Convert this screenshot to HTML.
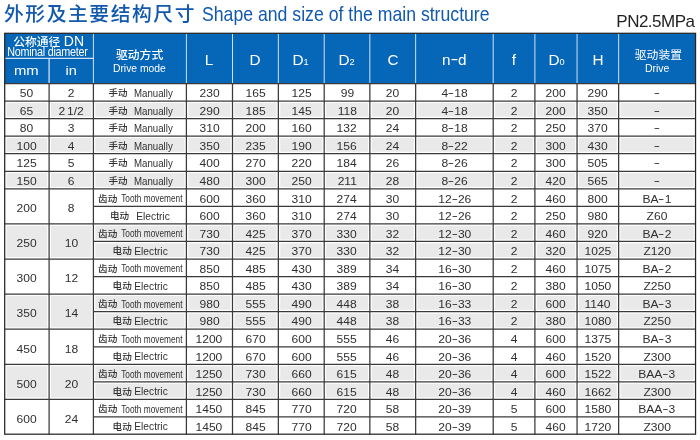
<!DOCTYPE html>
<html lang="zh"><head><meta charset="utf-8"><title>Shape and size of the main structure</title>
<style>
html,body{margin:0;padding:0;background:#fff;}
body{width:700px;height:440px;position:relative;overflow:hidden;font-family:"Liberation Sans","Noto Sans CJK SC",sans-serif;color:#303030;}
.a{position:absolute;}
.t{position:absolute;white-space:nowrap;text-align:center;height:20px;line-height:20px;}
#x{position:absolute;left:0;top:0;width:700px;height:440px;will-change:transform;}
.t span{display:inline-block;}
.w{color:#fff;}
.w b{font-weight:500;}
.w i{font-style:normal;font-size:14px;letter-spacing:.3px;}
.t u{text-decoration:none;display:inline-block;transform:scaleX(1.55);margin:0 1px;position:relative;top:-1.3px;}
.bl{color:#1259ae;}
svg{position:absolute;left:0;top:0;}
</style></head><body>
<svg width="700" height="440" viewBox="0 0 700 440">
<rect x="4.7" y="33.3" width="690.85" height="50.20" fill="#0666b8"/>
<g fill="#e9e9e9">
<rect x="6.60" y="102.95" width="40.60" height="13.75"/>
<rect x="51.00" y="102.95" width="40.50" height="13.75"/>
<rect x="95.30" y="102.95" width="89.20" height="13.75"/>
<rect x="188.30" y="102.95" width="42.30" height="13.75"/>
<rect x="234.40" y="102.95" width="42.05" height="13.75"/>
<rect x="280.25" y="102.95" width="42.05" height="13.75"/>
<rect x="326.10" y="102.95" width="41.85" height="13.75"/>
<rect x="371.75" y="102.95" width="42.00" height="13.75"/>
<rect x="417.55" y="102.95" width="73.75" height="13.75"/>
<rect x="495.10" y="102.95" width="37.90" height="13.75"/>
<rect x="536.80" y="102.95" width="38.35" height="13.75"/>
<rect x="578.95" y="102.95" width="37.80" height="13.75"/>
<rect x="620.55" y="102.95" width="73.10" height="13.75"/>
<rect x="6.60" y="138.05" width="40.60" height="13.75"/>
<rect x="51.00" y="138.05" width="40.50" height="13.75"/>
<rect x="95.30" y="138.05" width="89.20" height="13.75"/>
<rect x="188.30" y="138.05" width="42.30" height="13.75"/>
<rect x="234.40" y="138.05" width="42.05" height="13.75"/>
<rect x="280.25" y="138.05" width="42.05" height="13.75"/>
<rect x="326.10" y="138.05" width="41.85" height="13.75"/>
<rect x="371.75" y="138.05" width="42.00" height="13.75"/>
<rect x="417.55" y="138.05" width="73.75" height="13.75"/>
<rect x="495.10" y="138.05" width="37.90" height="13.75"/>
<rect x="536.80" y="138.05" width="38.35" height="13.75"/>
<rect x="578.95" y="138.05" width="37.80" height="13.75"/>
<rect x="620.55" y="138.05" width="73.10" height="13.75"/>
<rect x="6.60" y="173.15" width="40.60" height="13.75"/>
<rect x="51.00" y="173.15" width="40.50" height="13.75"/>
<rect x="95.30" y="173.15" width="89.20" height="13.75"/>
<rect x="188.30" y="173.15" width="42.30" height="13.75"/>
<rect x="234.40" y="173.15" width="42.05" height="13.75"/>
<rect x="280.25" y="173.15" width="42.05" height="13.75"/>
<rect x="326.10" y="173.15" width="41.85" height="13.75"/>
<rect x="371.75" y="173.15" width="42.00" height="13.75"/>
<rect x="417.55" y="173.15" width="73.75" height="13.75"/>
<rect x="495.10" y="173.15" width="37.90" height="13.75"/>
<rect x="536.80" y="173.15" width="38.35" height="13.75"/>
<rect x="578.95" y="173.15" width="37.80" height="13.75"/>
<rect x="620.55" y="173.15" width="73.10" height="13.75"/>
<rect x="6.60" y="225.80" width="40.60" height="31.30"/>
<rect x="51.00" y="225.80" width="40.50" height="31.30"/>
<rect x="95.30" y="225.80" width="89.20" height="13.75"/>
<rect x="188.30" y="225.80" width="42.30" height="13.75"/>
<rect x="234.40" y="225.80" width="42.05" height="13.75"/>
<rect x="280.25" y="225.80" width="42.05" height="13.75"/>
<rect x="326.10" y="225.80" width="41.85" height="13.75"/>
<rect x="371.75" y="225.80" width="42.00" height="13.75"/>
<rect x="417.55" y="225.80" width="73.75" height="13.75"/>
<rect x="495.10" y="225.80" width="37.90" height="13.75"/>
<rect x="536.80" y="225.80" width="38.35" height="13.75"/>
<rect x="578.95" y="225.80" width="37.80" height="13.75"/>
<rect x="620.55" y="225.80" width="73.10" height="13.75"/>
<rect x="95.30" y="243.35" width="89.20" height="13.75"/>
<rect x="188.30" y="243.35" width="42.30" height="13.75"/>
<rect x="234.40" y="243.35" width="42.05" height="13.75"/>
<rect x="280.25" y="243.35" width="42.05" height="13.75"/>
<rect x="326.10" y="243.35" width="41.85" height="13.75"/>
<rect x="371.75" y="243.35" width="42.00" height="13.75"/>
<rect x="417.55" y="243.35" width="73.75" height="13.75"/>
<rect x="495.10" y="243.35" width="37.90" height="13.75"/>
<rect x="536.80" y="243.35" width="38.35" height="13.75"/>
<rect x="578.95" y="243.35" width="37.80" height="13.75"/>
<rect x="620.55" y="243.35" width="73.10" height="13.75"/>
<rect x="6.60" y="296.00" width="40.60" height="31.30"/>
<rect x="51.00" y="296.00" width="40.50" height="31.30"/>
<rect x="95.30" y="296.00" width="89.20" height="13.75"/>
<rect x="188.30" y="296.00" width="42.30" height="13.75"/>
<rect x="234.40" y="296.00" width="42.05" height="13.75"/>
<rect x="280.25" y="296.00" width="42.05" height="13.75"/>
<rect x="326.10" y="296.00" width="41.85" height="13.75"/>
<rect x="371.75" y="296.00" width="42.00" height="13.75"/>
<rect x="417.55" y="296.00" width="73.75" height="13.75"/>
<rect x="495.10" y="296.00" width="37.90" height="13.75"/>
<rect x="536.80" y="296.00" width="38.35" height="13.75"/>
<rect x="578.95" y="296.00" width="37.80" height="13.75"/>
<rect x="620.55" y="296.00" width="73.10" height="13.75"/>
<rect x="95.30" y="313.55" width="89.20" height="13.75"/>
<rect x="188.30" y="313.55" width="42.30" height="13.75"/>
<rect x="234.40" y="313.55" width="42.05" height="13.75"/>
<rect x="280.25" y="313.55" width="42.05" height="13.75"/>
<rect x="326.10" y="313.55" width="41.85" height="13.75"/>
<rect x="371.75" y="313.55" width="42.00" height="13.75"/>
<rect x="417.55" y="313.55" width="73.75" height="13.75"/>
<rect x="495.10" y="313.55" width="37.90" height="13.75"/>
<rect x="536.80" y="313.55" width="38.35" height="13.75"/>
<rect x="578.95" y="313.55" width="37.80" height="13.75"/>
<rect x="620.55" y="313.55" width="73.10" height="13.75"/>
<rect x="6.60" y="366.20" width="40.60" height="31.30"/>
<rect x="51.00" y="366.20" width="40.50" height="31.30"/>
<rect x="95.30" y="366.20" width="89.20" height="13.75"/>
<rect x="188.30" y="366.20" width="42.30" height="13.75"/>
<rect x="234.40" y="366.20" width="42.05" height="13.75"/>
<rect x="280.25" y="366.20" width="42.05" height="13.75"/>
<rect x="326.10" y="366.20" width="41.85" height="13.75"/>
<rect x="371.75" y="366.20" width="42.00" height="13.75"/>
<rect x="417.55" y="366.20" width="73.75" height="13.75"/>
<rect x="495.10" y="366.20" width="37.90" height="13.75"/>
<rect x="536.80" y="366.20" width="38.35" height="13.75"/>
<rect x="578.95" y="366.20" width="37.80" height="13.75"/>
<rect x="620.55" y="366.20" width="73.10" height="13.75"/>
<rect x="95.30" y="383.75" width="89.20" height="13.75"/>
<rect x="188.30" y="383.75" width="42.30" height="13.75"/>
<rect x="234.40" y="383.75" width="42.05" height="13.75"/>
<rect x="280.25" y="383.75" width="42.05" height="13.75"/>
<rect x="326.10" y="383.75" width="41.85" height="13.75"/>
<rect x="371.75" y="383.75" width="42.00" height="13.75"/>
<rect x="417.55" y="383.75" width="73.75" height="13.75"/>
<rect x="495.10" y="383.75" width="37.90" height="13.75"/>
<rect x="536.80" y="383.75" width="38.35" height="13.75"/>
<rect x="578.95" y="383.75" width="37.80" height="13.75"/>
<rect x="620.55" y="383.75" width="73.10" height="13.75"/>
</g></svg>
<div id="x">
<div class="a bl" style="left:4px;top:-0.2px;height:28px;line-height:28px;font-size:19.8px;font-weight:500;letter-spacing:1.55px;white-space:nowrap">外形及主要结构尺寸</div>
<div class="a bl" style="left:202px;top:0;height:28px;line-height:28px;font-size:20.8px;white-space:nowrap;transform-origin:0 50%;transform:scaleX(.849)">Shape and size of the main structure</div>
<div class="a" style="right:5.5px;top:11.7px;height:20px;line-height:20px;font-size:17px;color:#222;white-space:nowrap;letter-spacing:-.5px">PN2.5MPa</div>
<div class="t w" style="left:-151.2px;top:31.31px;width:400px;font-size:11.8px;"><b>公称通径</b> <i>DN</i></div>
<div class="t w" style="left:-152.3px;top:41.97px;width:400px;font-size:12.2px;letter-spacing:-0.3px;"><span style="transform:scaleX(0.886)">Nominal diameter</span></div>
<div class="t w" style="left:-174.0px;top:61.42px;width:400px;font-size:13.5px;"><span style="transform:scaleX(1.1)">mm</span></div>
<div class="t w" style="left:-129.2px;top:61.42px;width:400px;font-size:13.5px;"><span style="transform:scaleX(1.08)">in</span></div>
<div class="t w" style="left:-60.4px;top:45.31px;width:400px;font-size:11.8px;"><b>驱动方式</b></div>
<div class="t w" style="left:-60.4px;top:57.72px;width:400px;font-size:11.5px;"><span style="transform:scaleX(0.9)">Drive mode</span></div>
<div class="t w" style="left:8.8px;top:50.48px;width:400px;font-size:14.2px;"><span style="transform:scaleX(1.08)">L</span></div>
<div class="t w" style="left:55.2px;top:50.48px;width:400px;font-size:14.2px;"><span style="transform:scaleX(1.08)">D</span></div>
<div class="t w" style="left:100.8px;top:50.48px;width:400px;font-size:14.2px;"><span style="transform:scaleX(1.08)">D<span style="font-size:8.5px;display:inline">1</span></span></div>
<div class="t w" style="left:146.8px;top:50.48px;width:400px;font-size:14.2px;"><span style="transform:scaleX(1.08)">D<span style="font-size:8.5px;display:inline">2</span></span></div>
<div class="t w" style="left:193.2px;top:50.48px;width:400px;font-size:14.2px;"><span style="transform:scaleX(1.08)">C</span></div>
<div class="t w" style="left:254.0px;top:50.48px;width:400px;font-size:14.2px;"><span style="transform:scaleX(1.08)">n<u>-</u>d</span></div>
<div class="t w" style="left:313.9px;top:50.48px;width:400px;font-size:14.2px;"><span style="transform:scaleX(1.08)">f</span></div>
<div class="t w" style="left:356.1px;top:50.48px;width:400px;font-size:14.2px;"><span style="transform:scaleX(1.08)">D<span style="font-size:8.5px;display:inline">0</span></span></div>
<div class="t w" style="left:398.3px;top:50.48px;width:400px;font-size:14.2px;"><span style="transform:scaleX(1.08)">H</span></div>
<div class="t w" style="left:458.4px;top:45.11px;width:400px;font-size:11.8px;">驱动装置</div>
<div class="t w" style="left:457.6px;top:57.68px;width:400px;font-size:11.3px;"><span style="transform:scaleX(0.93)">Drive</span></div>
<div class="t " style="left:-173.1px;top:83px;width:400px;font-size:11.6px;"><span style="transform:scaleX(1.04)">50</span></div>
<div class="t " style="left:-128.8px;top:83px;width:400px;font-size:11.6px;"><span style="transform:scaleX(1.04)">2</span></div>
<div class="t " style="left:-82.1px;top:83px;width:400px;font-size:9.5px;font-weight:500;">手动</div>
<div class="t " style="left:-46.4px;top:84px;width:400px;font-size:10.2px;"><span style="transform:scaleX(0.95)">Manually</span></div>
<div class="t " style="left:9.4px;top:83px;width:400px;font-size:11.6px;"><span style="transform:scaleX(1.04)">230</span></div>
<div class="t " style="left:55.4px;top:83px;width:400px;font-size:11.6px;"><span style="transform:scaleX(1.04)">165</span></div>
<div class="t " style="left:101.3px;top:83px;width:400px;font-size:11.6px;"><span style="transform:scaleX(1.04)">125</span></div>
<div class="t " style="left:147.0px;top:83px;width:400px;font-size:11.6px;"><span style="transform:scaleX(1.04)">99</span></div>
<div class="t " style="left:192.8px;top:83px;width:400px;font-size:11.6px;"><span style="transform:scaleX(1.04)">20</span></div>
<div class="t " style="left:254.4px;top:83px;width:400px;font-size:11.6px;"><span style="transform:scaleX(1.04)">4<u>-</u>18</span></div>
<div class="t " style="left:314.0px;top:83px;width:400px;font-size:11.6px;"><span style="transform:scaleX(1.04)">2</span></div>
<div class="t " style="left:356.0px;top:83px;width:400px;font-size:11.6px;"><span style="transform:scaleX(1.04)">200</span></div>
<div class="t " style="left:397.8px;top:83px;width:400px;font-size:11.6px;"><span style="transform:scaleX(1.04)">290</span></div>
<div class="t " style="left:457.1px;top:83px;width:400px;font-size:11.6px;"><span style="transform:scaleX(1.04)"><u>-</u></span></div>
<div class="t " style="left:-173.1px;top:101px;width:400px;font-size:11.6px;"><span style="transform:scaleX(1.04)">65</span></div>
<div class="t " style="left:-128.8px;top:101px;width:400px;font-size:11.6px;word-spacing:-1.5px;"><span style="transform:scaleX(1.04)">2 1/2</span></div>
<div class="t " style="left:-82.1px;top:101px;width:400px;font-size:9.5px;font-weight:500;">手动</div>
<div class="t " style="left:-46.4px;top:102px;width:400px;font-size:10.2px;"><span style="transform:scaleX(0.95)">Manually</span></div>
<div class="t " style="left:9.4px;top:101px;width:400px;font-size:11.6px;"><span style="transform:scaleX(1.04)">290</span></div>
<div class="t " style="left:55.4px;top:101px;width:400px;font-size:11.6px;"><span style="transform:scaleX(1.04)">185</span></div>
<div class="t " style="left:101.3px;top:101px;width:400px;font-size:11.6px;"><span style="transform:scaleX(1.04)">145</span></div>
<div class="t " style="left:147.0px;top:101px;width:400px;font-size:11.6px;"><span style="transform:scaleX(1.04)">118</span></div>
<div class="t " style="left:192.8px;top:101px;width:400px;font-size:11.6px;"><span style="transform:scaleX(1.04)">20</span></div>
<div class="t " style="left:254.4px;top:101px;width:400px;font-size:11.6px;"><span style="transform:scaleX(1.04)">4<u>-</u>18</span></div>
<div class="t " style="left:314.0px;top:101px;width:400px;font-size:11.6px;"><span style="transform:scaleX(1.04)">2</span></div>
<div class="t " style="left:356.0px;top:101px;width:400px;font-size:11.6px;"><span style="transform:scaleX(1.04)">200</span></div>
<div class="t " style="left:397.8px;top:101px;width:400px;font-size:11.6px;"><span style="transform:scaleX(1.04)">350</span></div>
<div class="t " style="left:457.1px;top:101px;width:400px;font-size:11.6px;"><span style="transform:scaleX(1.04)"><u>-</u></span></div>
<div class="t " style="left:-173.1px;top:118px;width:400px;font-size:11.6px;"><span style="transform:scaleX(1.04)">80</span></div>
<div class="t " style="left:-128.8px;top:118px;width:400px;font-size:11.6px;"><span style="transform:scaleX(1.04)">3</span></div>
<div class="t " style="left:-82.1px;top:118px;width:400px;font-size:9.5px;font-weight:500;">手动</div>
<div class="t " style="left:-46.4px;top:119px;width:400px;font-size:10.2px;"><span style="transform:scaleX(0.95)">Manually</span></div>
<div class="t " style="left:9.4px;top:118px;width:400px;font-size:11.6px;"><span style="transform:scaleX(1.04)">310</span></div>
<div class="t " style="left:55.4px;top:118px;width:400px;font-size:11.6px;"><span style="transform:scaleX(1.04)">200</span></div>
<div class="t " style="left:101.3px;top:118px;width:400px;font-size:11.6px;"><span style="transform:scaleX(1.04)">160</span></div>
<div class="t " style="left:147.0px;top:118px;width:400px;font-size:11.6px;"><span style="transform:scaleX(1.04)">132</span></div>
<div class="t " style="left:192.8px;top:118px;width:400px;font-size:11.6px;"><span style="transform:scaleX(1.04)">24</span></div>
<div class="t " style="left:254.4px;top:118px;width:400px;font-size:11.6px;"><span style="transform:scaleX(1.04)">8<u>-</u>18</span></div>
<div class="t " style="left:314.0px;top:118px;width:400px;font-size:11.6px;"><span style="transform:scaleX(1.04)">2</span></div>
<div class="t " style="left:356.0px;top:118px;width:400px;font-size:11.6px;"><span style="transform:scaleX(1.04)">250</span></div>
<div class="t " style="left:397.8px;top:118px;width:400px;font-size:11.6px;"><span style="transform:scaleX(1.04)">370</span></div>
<div class="t " style="left:457.1px;top:118px;width:400px;font-size:11.6px;"><span style="transform:scaleX(1.04)"><u>-</u></span></div>
<div class="t " style="left:-173.1px;top:136px;width:400px;font-size:11.6px;"><span style="transform:scaleX(1.04)">100</span></div>
<div class="t " style="left:-128.8px;top:136px;width:400px;font-size:11.6px;"><span style="transform:scaleX(1.04)">4</span></div>
<div class="t " style="left:-82.1px;top:136px;width:400px;font-size:9.5px;font-weight:500;">手动</div>
<div class="t " style="left:-46.4px;top:137px;width:400px;font-size:10.2px;"><span style="transform:scaleX(0.95)">Manually</span></div>
<div class="t " style="left:9.4px;top:136px;width:400px;font-size:11.6px;"><span style="transform:scaleX(1.04)">350</span></div>
<div class="t " style="left:55.4px;top:136px;width:400px;font-size:11.6px;"><span style="transform:scaleX(1.04)">235</span></div>
<div class="t " style="left:101.3px;top:136px;width:400px;font-size:11.6px;"><span style="transform:scaleX(1.04)">190</span></div>
<div class="t " style="left:147.0px;top:136px;width:400px;font-size:11.6px;"><span style="transform:scaleX(1.04)">156</span></div>
<div class="t " style="left:192.8px;top:136px;width:400px;font-size:11.6px;"><span style="transform:scaleX(1.04)">24</span></div>
<div class="t " style="left:254.4px;top:136px;width:400px;font-size:11.6px;"><span style="transform:scaleX(1.04)">8<u>-</u>22</span></div>
<div class="t " style="left:314.0px;top:136px;width:400px;font-size:11.6px;"><span style="transform:scaleX(1.04)">2</span></div>
<div class="t " style="left:356.0px;top:136px;width:400px;font-size:11.6px;"><span style="transform:scaleX(1.04)">300</span></div>
<div class="t " style="left:397.8px;top:136px;width:400px;font-size:11.6px;"><span style="transform:scaleX(1.04)">430</span></div>
<div class="t " style="left:457.1px;top:136px;width:400px;font-size:11.6px;"><span style="transform:scaleX(1.04)"><u>-</u></span></div>
<div class="t " style="left:-173.1px;top:153px;width:400px;font-size:11.6px;"><span style="transform:scaleX(1.04)">125</span></div>
<div class="t " style="left:-128.8px;top:153px;width:400px;font-size:11.6px;"><span style="transform:scaleX(1.04)">5</span></div>
<div class="t " style="left:-82.1px;top:153px;width:400px;font-size:9.5px;font-weight:500;">手动</div>
<div class="t " style="left:-46.4px;top:154px;width:400px;font-size:10.2px;"><span style="transform:scaleX(0.95)">Manually</span></div>
<div class="t " style="left:9.4px;top:153px;width:400px;font-size:11.6px;"><span style="transform:scaleX(1.04)">400</span></div>
<div class="t " style="left:55.4px;top:153px;width:400px;font-size:11.6px;"><span style="transform:scaleX(1.04)">270</span></div>
<div class="t " style="left:101.3px;top:153px;width:400px;font-size:11.6px;"><span style="transform:scaleX(1.04)">220</span></div>
<div class="t " style="left:147.0px;top:153px;width:400px;font-size:11.6px;"><span style="transform:scaleX(1.04)">184</span></div>
<div class="t " style="left:192.8px;top:153px;width:400px;font-size:11.6px;"><span style="transform:scaleX(1.04)">26</span></div>
<div class="t " style="left:254.4px;top:153px;width:400px;font-size:11.6px;"><span style="transform:scaleX(1.04)">8<u>-</u>26</span></div>
<div class="t " style="left:314.0px;top:153px;width:400px;font-size:11.6px;"><span style="transform:scaleX(1.04)">2</span></div>
<div class="t " style="left:356.0px;top:153px;width:400px;font-size:11.6px;"><span style="transform:scaleX(1.04)">300</span></div>
<div class="t " style="left:397.8px;top:153px;width:400px;font-size:11.6px;"><span style="transform:scaleX(1.04)">505</span></div>
<div class="t " style="left:457.1px;top:153px;width:400px;font-size:11.6px;"><span style="transform:scaleX(1.04)"><u>-</u></span></div>
<div class="t " style="left:-173.1px;top:171px;width:400px;font-size:11.6px;"><span style="transform:scaleX(1.04)">150</span></div>
<div class="t " style="left:-128.8px;top:171px;width:400px;font-size:11.6px;"><span style="transform:scaleX(1.04)">6</span></div>
<div class="t " style="left:-82.1px;top:171px;width:400px;font-size:9.5px;font-weight:500;">手动</div>
<div class="t " style="left:-46.4px;top:172px;width:400px;font-size:10.2px;"><span style="transform:scaleX(0.95)">Manually</span></div>
<div class="t " style="left:9.4px;top:171px;width:400px;font-size:11.6px;"><span style="transform:scaleX(1.04)">480</span></div>
<div class="t " style="left:55.4px;top:171px;width:400px;font-size:11.6px;"><span style="transform:scaleX(1.04)">300</span></div>
<div class="t " style="left:101.3px;top:171px;width:400px;font-size:11.6px;"><span style="transform:scaleX(1.04)">250</span></div>
<div class="t " style="left:147.0px;top:171px;width:400px;font-size:11.6px;"><span style="transform:scaleX(1.04)">211</span></div>
<div class="t " style="left:192.8px;top:171px;width:400px;font-size:11.6px;"><span style="transform:scaleX(1.04)">28</span></div>
<div class="t " style="left:254.4px;top:171px;width:400px;font-size:11.6px;"><span style="transform:scaleX(1.04)">8<u>-</u>26</span></div>
<div class="t " style="left:314.0px;top:171px;width:400px;font-size:11.6px;"><span style="transform:scaleX(1.04)">2</span></div>
<div class="t " style="left:356.0px;top:171px;width:400px;font-size:11.6px;"><span style="transform:scaleX(1.04)">420</span></div>
<div class="t " style="left:397.8px;top:171px;width:400px;font-size:11.6px;"><span style="transform:scaleX(1.04)">565</span></div>
<div class="t " style="left:457.1px;top:171px;width:400px;font-size:11.6px;"><span style="transform:scaleX(1.04)"><u>-</u></span></div>
<div class="t " style="left:-173.1px;top:198px;width:400px;font-size:11.6px;"><span style="transform:scaleX(1.04)">200</span></div>
<div class="t " style="left:-128.8px;top:198px;width:400px;font-size:11.6px;"><span style="transform:scaleX(1.04)">8</span></div>
<div class="t " style="left:-92.3px;top:189px;width:400px;font-size:9.6px;font-weight:500;">齿动</div>
<div class="t " style="left:-48.6px;top:188px;width:400px;font-size:10.5px;"><span style="transform:scaleX(0.79)">Tooth movement</span></div>
<div class="t " style="left:9.4px;top:189px;width:400px;font-size:11.6px;"><span style="transform:scaleX(1.04)">600</span></div>
<div class="t " style="left:55.4px;top:189px;width:400px;font-size:11.6px;"><span style="transform:scaleX(1.04)">360</span></div>
<div class="t " style="left:101.3px;top:189px;width:400px;font-size:11.6px;"><span style="transform:scaleX(1.04)">310</span></div>
<div class="t " style="left:147.0px;top:189px;width:400px;font-size:11.6px;"><span style="transform:scaleX(1.04)">274</span></div>
<div class="t " style="left:192.8px;top:189px;width:400px;font-size:11.6px;"><span style="transform:scaleX(1.04)">30</span></div>
<div class="t " style="left:254.4px;top:189px;width:400px;font-size:11.6px;"><span style="transform:scaleX(1.04)">12<u>-</u>26</span></div>
<div class="t " style="left:314.0px;top:189px;width:400px;font-size:11.6px;"><span style="transform:scaleX(1.04)">2</span></div>
<div class="t " style="left:356.0px;top:189px;width:400px;font-size:11.6px;"><span style="transform:scaleX(1.04)">460</span></div>
<div class="t " style="left:397.8px;top:189px;width:400px;font-size:11.6px;"><span style="transform:scaleX(1.04)">800</span></div>
<div class="t " style="left:457.1px;top:189px;width:400px;font-size:11.6px;"><span style="transform:scaleX(1.04)">BA<u>-</u>1</span></div>
<div class="t " style="left:-80.4px;top:206px;width:400px;font-size:9.6px;font-weight:500;">电动</div>
<div class="t " style="left:-47.1px;top:206px;width:400px;font-size:11.6px;"><span style="transform:scaleX(0.88)">Electric</span></div>
<div class="t " style="left:9.4px;top:206px;width:400px;font-size:11.6px;"><span style="transform:scaleX(1.04)">600</span></div>
<div class="t " style="left:55.4px;top:206px;width:400px;font-size:11.6px;"><span style="transform:scaleX(1.04)">360</span></div>
<div class="t " style="left:101.3px;top:206px;width:400px;font-size:11.6px;"><span style="transform:scaleX(1.04)">310</span></div>
<div class="t " style="left:147.0px;top:206px;width:400px;font-size:11.6px;"><span style="transform:scaleX(1.04)">274</span></div>
<div class="t " style="left:192.8px;top:206px;width:400px;font-size:11.6px;"><span style="transform:scaleX(1.04)">30</span></div>
<div class="t " style="left:254.4px;top:206px;width:400px;font-size:11.6px;"><span style="transform:scaleX(1.04)">12<u>-</u>26</span></div>
<div class="t " style="left:314.0px;top:206px;width:400px;font-size:11.6px;"><span style="transform:scaleX(1.04)">2</span></div>
<div class="t " style="left:356.0px;top:206px;width:400px;font-size:11.6px;"><span style="transform:scaleX(1.04)">250</span></div>
<div class="t " style="left:397.8px;top:206px;width:400px;font-size:11.6px;"><span style="transform:scaleX(1.04)">980</span></div>
<div class="t " style="left:457.1px;top:206px;width:400px;font-size:11.6px;"><span style="transform:scaleX(1.04)">Z60</span></div>
<div class="t " style="left:-173.1px;top:233px;width:400px;font-size:11.6px;"><span style="transform:scaleX(1.04)">250</span></div>
<div class="t " style="left:-128.8px;top:233px;width:400px;font-size:11.6px;"><span style="transform:scaleX(1.04)">10</span></div>
<div class="t " style="left:-92.3px;top:224px;width:400px;font-size:9.6px;font-weight:500;">齿动</div>
<div class="t " style="left:-48.6px;top:223px;width:400px;font-size:10.5px;"><span style="transform:scaleX(0.79)">Tooth movement</span></div>
<div class="t " style="left:9.4px;top:224px;width:400px;font-size:11.6px;"><span style="transform:scaleX(1.04)">730</span></div>
<div class="t " style="left:55.4px;top:224px;width:400px;font-size:11.6px;"><span style="transform:scaleX(1.04)">425</span></div>
<div class="t " style="left:101.3px;top:224px;width:400px;font-size:11.6px;"><span style="transform:scaleX(1.04)">370</span></div>
<div class="t " style="left:147.0px;top:224px;width:400px;font-size:11.6px;"><span style="transform:scaleX(1.04)">330</span></div>
<div class="t " style="left:192.8px;top:224px;width:400px;font-size:11.6px;"><span style="transform:scaleX(1.04)">32</span></div>
<div class="t " style="left:254.4px;top:224px;width:400px;font-size:11.6px;"><span style="transform:scaleX(1.04)">12<u>-</u>30</span></div>
<div class="t " style="left:314.0px;top:224px;width:400px;font-size:11.6px;"><span style="transform:scaleX(1.04)">2</span></div>
<div class="t " style="left:356.0px;top:224px;width:400px;font-size:11.6px;"><span style="transform:scaleX(1.04)">460</span></div>
<div class="t " style="left:397.8px;top:224px;width:400px;font-size:11.6px;"><span style="transform:scaleX(1.04)">920</span></div>
<div class="t " style="left:457.1px;top:224px;width:400px;font-size:11.6px;"><span style="transform:scaleX(1.04)">BA<u>-</u>2</span></div>
<div class="t " style="left:-77.8px;top:241px;width:400px;font-size:9.6px;font-weight:500;">电动</div>
<div class="t " style="left:-48.5px;top:241px;width:400px;font-size:11.6px;"><span style="transform:scaleX(0.88)">Electric</span></div>
<div class="t " style="left:9.4px;top:241px;width:400px;font-size:11.6px;"><span style="transform:scaleX(1.04)">730</span></div>
<div class="t " style="left:55.4px;top:241px;width:400px;font-size:11.6px;"><span style="transform:scaleX(1.04)">425</span></div>
<div class="t " style="left:101.3px;top:241px;width:400px;font-size:11.6px;"><span style="transform:scaleX(1.04)">370</span></div>
<div class="t " style="left:147.0px;top:241px;width:400px;font-size:11.6px;"><span style="transform:scaleX(1.04)">330</span></div>
<div class="t " style="left:192.8px;top:241px;width:400px;font-size:11.6px;"><span style="transform:scaleX(1.04)">32</span></div>
<div class="t " style="left:254.4px;top:241px;width:400px;font-size:11.6px;"><span style="transform:scaleX(1.04)">12<u>-</u>30</span></div>
<div class="t " style="left:314.0px;top:241px;width:400px;font-size:11.6px;"><span style="transform:scaleX(1.04)">2</span></div>
<div class="t " style="left:356.0px;top:241px;width:400px;font-size:11.6px;"><span style="transform:scaleX(1.04)">320</span></div>
<div class="t " style="left:397.8px;top:241px;width:400px;font-size:11.6px;"><span style="transform:scaleX(1.04)">1025</span></div>
<div class="t " style="left:457.1px;top:241px;width:400px;font-size:11.6px;"><span style="transform:scaleX(1.04)">Z120</span></div>
<div class="t " style="left:-173.1px;top:268px;width:400px;font-size:11.6px;"><span style="transform:scaleX(1.04)">300</span></div>
<div class="t " style="left:-128.8px;top:268px;width:400px;font-size:11.6px;"><span style="transform:scaleX(1.04)">12</span></div>
<div class="t " style="left:-92.3px;top:259px;width:400px;font-size:9.6px;font-weight:500;">齿动</div>
<div class="t " style="left:-48.6px;top:258px;width:400px;font-size:10.5px;"><span style="transform:scaleX(0.79)">Tooth movement</span></div>
<div class="t " style="left:9.4px;top:259px;width:400px;font-size:11.6px;"><span style="transform:scaleX(1.04)">850</span></div>
<div class="t " style="left:55.4px;top:259px;width:400px;font-size:11.6px;"><span style="transform:scaleX(1.04)">485</span></div>
<div class="t " style="left:101.3px;top:259px;width:400px;font-size:11.6px;"><span style="transform:scaleX(1.04)">430</span></div>
<div class="t " style="left:147.0px;top:259px;width:400px;font-size:11.6px;"><span style="transform:scaleX(1.04)">389</span></div>
<div class="t " style="left:192.8px;top:259px;width:400px;font-size:11.6px;"><span style="transform:scaleX(1.04)">34</span></div>
<div class="t " style="left:254.4px;top:259px;width:400px;font-size:11.6px;"><span style="transform:scaleX(1.04)">16<u>-</u>30</span></div>
<div class="t " style="left:314.0px;top:259px;width:400px;font-size:11.6px;"><span style="transform:scaleX(1.04)">2</span></div>
<div class="t " style="left:356.0px;top:259px;width:400px;font-size:11.6px;"><span style="transform:scaleX(1.04)">460</span></div>
<div class="t " style="left:397.8px;top:259px;width:400px;font-size:11.6px;"><span style="transform:scaleX(1.04)">1075</span></div>
<div class="t " style="left:457.1px;top:259px;width:400px;font-size:11.6px;"><span style="transform:scaleX(1.04)">BA<u>-</u>2</span></div>
<div class="t " style="left:-77.8px;top:276px;width:400px;font-size:9.6px;font-weight:500;">电动</div>
<div class="t " style="left:-48.5px;top:276px;width:400px;font-size:11.6px;"><span style="transform:scaleX(0.88)">Electric</span></div>
<div class="t " style="left:9.4px;top:276px;width:400px;font-size:11.6px;"><span style="transform:scaleX(1.04)">850</span></div>
<div class="t " style="left:55.4px;top:276px;width:400px;font-size:11.6px;"><span style="transform:scaleX(1.04)">485</span></div>
<div class="t " style="left:101.3px;top:276px;width:400px;font-size:11.6px;"><span style="transform:scaleX(1.04)">430</span></div>
<div class="t " style="left:147.0px;top:276px;width:400px;font-size:11.6px;"><span style="transform:scaleX(1.04)">389</span></div>
<div class="t " style="left:192.8px;top:276px;width:400px;font-size:11.6px;"><span style="transform:scaleX(1.04)">34</span></div>
<div class="t " style="left:254.4px;top:276px;width:400px;font-size:11.6px;"><span style="transform:scaleX(1.04)">16<u>-</u>30</span></div>
<div class="t " style="left:314.0px;top:276px;width:400px;font-size:11.6px;"><span style="transform:scaleX(1.04)">2</span></div>
<div class="t " style="left:356.0px;top:276px;width:400px;font-size:11.6px;"><span style="transform:scaleX(1.04)">380</span></div>
<div class="t " style="left:397.8px;top:276px;width:400px;font-size:11.6px;"><span style="transform:scaleX(1.04)">1050</span></div>
<div class="t " style="left:457.1px;top:276px;width:400px;font-size:11.6px;"><span style="transform:scaleX(1.04)">Z250</span></div>
<div class="t " style="left:-173.1px;top:303px;width:400px;font-size:11.6px;"><span style="transform:scaleX(1.04)">350</span></div>
<div class="t " style="left:-128.8px;top:303px;width:400px;font-size:11.6px;"><span style="transform:scaleX(1.04)">14</span></div>
<div class="t " style="left:-92.3px;top:294px;width:400px;font-size:9.6px;font-weight:500;">齿动</div>
<div class="t " style="left:-48.6px;top:294px;width:400px;font-size:10.5px;"><span style="transform:scaleX(0.79)">Tooth movement</span></div>
<div class="t " style="left:9.4px;top:294px;width:400px;font-size:11.6px;"><span style="transform:scaleX(1.04)">980</span></div>
<div class="t " style="left:55.4px;top:294px;width:400px;font-size:11.6px;"><span style="transform:scaleX(1.04)">555</span></div>
<div class="t " style="left:101.3px;top:294px;width:400px;font-size:11.6px;"><span style="transform:scaleX(1.04)">490</span></div>
<div class="t " style="left:147.0px;top:294px;width:400px;font-size:11.6px;"><span style="transform:scaleX(1.04)">448</span></div>
<div class="t " style="left:192.8px;top:294px;width:400px;font-size:11.6px;"><span style="transform:scaleX(1.04)">38</span></div>
<div class="t " style="left:254.4px;top:294px;width:400px;font-size:11.6px;"><span style="transform:scaleX(1.04)">16<u>-</u>33</span></div>
<div class="t " style="left:314.0px;top:294px;width:400px;font-size:11.6px;"><span style="transform:scaleX(1.04)">2</span></div>
<div class="t " style="left:356.0px;top:294px;width:400px;font-size:11.6px;"><span style="transform:scaleX(1.04)">600</span></div>
<div class="t " style="left:397.8px;top:294px;width:400px;font-size:11.6px;"><span style="transform:scaleX(1.04)">1140</span></div>
<div class="t " style="left:457.1px;top:294px;width:400px;font-size:11.6px;"><span style="transform:scaleX(1.04)">BA<u>-</u>3</span></div>
<div class="t " style="left:-77.8px;top:311px;width:400px;font-size:9.6px;font-weight:500;">电动</div>
<div class="t " style="left:-48.5px;top:311px;width:400px;font-size:11.6px;"><span style="transform:scaleX(0.88)">Electric</span></div>
<div class="t " style="left:9.4px;top:311px;width:400px;font-size:11.6px;"><span style="transform:scaleX(1.04)">980</span></div>
<div class="t " style="left:55.4px;top:311px;width:400px;font-size:11.6px;"><span style="transform:scaleX(1.04)">555</span></div>
<div class="t " style="left:101.3px;top:311px;width:400px;font-size:11.6px;"><span style="transform:scaleX(1.04)">490</span></div>
<div class="t " style="left:147.0px;top:311px;width:400px;font-size:11.6px;"><span style="transform:scaleX(1.04)">448</span></div>
<div class="t " style="left:192.8px;top:311px;width:400px;font-size:11.6px;"><span style="transform:scaleX(1.04)">38</span></div>
<div class="t " style="left:254.4px;top:311px;width:400px;font-size:11.6px;"><span style="transform:scaleX(1.04)">16<u>-</u>33</span></div>
<div class="t " style="left:314.0px;top:311px;width:400px;font-size:11.6px;"><span style="transform:scaleX(1.04)">2</span></div>
<div class="t " style="left:356.0px;top:311px;width:400px;font-size:11.6px;"><span style="transform:scaleX(1.04)">380</span></div>
<div class="t " style="left:397.8px;top:311px;width:400px;font-size:11.6px;"><span style="transform:scaleX(1.04)">1080</span></div>
<div class="t " style="left:457.1px;top:311px;width:400px;font-size:11.6px;"><span style="transform:scaleX(1.04)">Z250</span></div>
<div class="t " style="left:-173.1px;top:339px;width:400px;font-size:11.6px;"><span style="transform:scaleX(1.04)">450</span></div>
<div class="t " style="left:-128.8px;top:339px;width:400px;font-size:11.6px;"><span style="transform:scaleX(1.04)">18</span></div>
<div class="t " style="left:-92.3px;top:329px;width:400px;font-size:9.6px;font-weight:500;">齿动</div>
<div class="t " style="left:-48.6px;top:329px;width:400px;font-size:10.5px;"><span style="transform:scaleX(0.79)">Tooth movement</span></div>
<div class="t " style="left:9.4px;top:329px;width:400px;font-size:11.6px;"><span style="transform:scaleX(1.04)">1200</span></div>
<div class="t " style="left:55.4px;top:329px;width:400px;font-size:11.6px;"><span style="transform:scaleX(1.04)">670</span></div>
<div class="t " style="left:101.3px;top:329px;width:400px;font-size:11.6px;"><span style="transform:scaleX(1.04)">600</span></div>
<div class="t " style="left:147.0px;top:329px;width:400px;font-size:11.6px;"><span style="transform:scaleX(1.04)">555</span></div>
<div class="t " style="left:192.8px;top:329px;width:400px;font-size:11.6px;"><span style="transform:scaleX(1.04)">46</span></div>
<div class="t " style="left:254.4px;top:329px;width:400px;font-size:11.6px;"><span style="transform:scaleX(1.04)">20<u>-</u>36</span></div>
<div class="t " style="left:314.0px;top:329px;width:400px;font-size:11.6px;"><span style="transform:scaleX(1.04)">4</span></div>
<div class="t " style="left:356.0px;top:329px;width:400px;font-size:11.6px;"><span style="transform:scaleX(1.04)">600</span></div>
<div class="t " style="left:397.8px;top:329px;width:400px;font-size:11.6px;"><span style="transform:scaleX(1.04)">1375</span></div>
<div class="t " style="left:457.1px;top:329px;width:400px;font-size:11.6px;"><span style="transform:scaleX(1.04)">BA<u>-</u>3</span></div>
<div class="t " style="left:-77.8px;top:347px;width:400px;font-size:9.6px;font-weight:500;">电动</div>
<div class="t " style="left:-48.5px;top:346px;width:400px;font-size:11.6px;"><span style="transform:scaleX(0.88)">Electric</span></div>
<div class="t " style="left:9.4px;top:347px;width:400px;font-size:11.6px;"><span style="transform:scaleX(1.04)">1200</span></div>
<div class="t " style="left:55.4px;top:347px;width:400px;font-size:11.6px;"><span style="transform:scaleX(1.04)">670</span></div>
<div class="t " style="left:101.3px;top:347px;width:400px;font-size:11.6px;"><span style="transform:scaleX(1.04)">600</span></div>
<div class="t " style="left:147.0px;top:347px;width:400px;font-size:11.6px;"><span style="transform:scaleX(1.04)">555</span></div>
<div class="t " style="left:192.8px;top:347px;width:400px;font-size:11.6px;"><span style="transform:scaleX(1.04)">46</span></div>
<div class="t " style="left:254.4px;top:347px;width:400px;font-size:11.6px;"><span style="transform:scaleX(1.04)">20<u>-</u>36</span></div>
<div class="t " style="left:314.0px;top:347px;width:400px;font-size:11.6px;"><span style="transform:scaleX(1.04)">4</span></div>
<div class="t " style="left:356.0px;top:347px;width:400px;font-size:11.6px;"><span style="transform:scaleX(1.04)">460</span></div>
<div class="t " style="left:397.8px;top:347px;width:400px;font-size:11.6px;"><span style="transform:scaleX(1.04)">1520</span></div>
<div class="t " style="left:457.1px;top:347px;width:400px;font-size:11.6px;"><span style="transform:scaleX(1.04)">Z300</span></div>
<div class="t " style="left:-173.1px;top:374px;width:400px;font-size:11.6px;"><span style="transform:scaleX(1.04)">500</span></div>
<div class="t " style="left:-128.8px;top:374px;width:400px;font-size:11.6px;"><span style="transform:scaleX(1.04)">20</span></div>
<div class="t " style="left:-92.3px;top:364px;width:400px;font-size:9.6px;font-weight:500;">齿动</div>
<div class="t " style="left:-48.6px;top:364px;width:400px;font-size:10.5px;"><span style="transform:scaleX(0.79)">Tooth movement</span></div>
<div class="t " style="left:9.4px;top:364px;width:400px;font-size:11.6px;"><span style="transform:scaleX(1.04)">1250</span></div>
<div class="t " style="left:55.4px;top:364px;width:400px;font-size:11.6px;"><span style="transform:scaleX(1.04)">730</span></div>
<div class="t " style="left:101.3px;top:364px;width:400px;font-size:11.6px;"><span style="transform:scaleX(1.04)">660</span></div>
<div class="t " style="left:147.0px;top:364px;width:400px;font-size:11.6px;"><span style="transform:scaleX(1.04)">615</span></div>
<div class="t " style="left:192.8px;top:364px;width:400px;font-size:11.6px;"><span style="transform:scaleX(1.04)">48</span></div>
<div class="t " style="left:254.4px;top:364px;width:400px;font-size:11.6px;"><span style="transform:scaleX(1.04)">20<u>-</u>36</span></div>
<div class="t " style="left:314.0px;top:364px;width:400px;font-size:11.6px;"><span style="transform:scaleX(1.04)">4</span></div>
<div class="t " style="left:356.0px;top:364px;width:400px;font-size:11.6px;"><span style="transform:scaleX(1.04)">600</span></div>
<div class="t " style="left:397.8px;top:364px;width:400px;font-size:11.6px;"><span style="transform:scaleX(1.04)">1522</span></div>
<div class="t " style="left:457.1px;top:364px;width:400px;font-size:11.6px;"><span style="transform:scaleX(1.04)">BAA<u>-</u>3</span></div>
<div class="t " style="left:-77.8px;top:382px;width:400px;font-size:9.6px;font-weight:500;">电动</div>
<div class="t " style="left:-48.5px;top:381px;width:400px;font-size:11.6px;"><span style="transform:scaleX(0.88)">Electric</span></div>
<div class="t " style="left:9.4px;top:382px;width:400px;font-size:11.6px;"><span style="transform:scaleX(1.04)">1250</span></div>
<div class="t " style="left:55.4px;top:382px;width:400px;font-size:11.6px;"><span style="transform:scaleX(1.04)">730</span></div>
<div class="t " style="left:101.3px;top:382px;width:400px;font-size:11.6px;"><span style="transform:scaleX(1.04)">660</span></div>
<div class="t " style="left:147.0px;top:382px;width:400px;font-size:11.6px;"><span style="transform:scaleX(1.04)">615</span></div>
<div class="t " style="left:192.8px;top:382px;width:400px;font-size:11.6px;"><span style="transform:scaleX(1.04)">48</span></div>
<div class="t " style="left:254.4px;top:382px;width:400px;font-size:11.6px;"><span style="transform:scaleX(1.04)">20<u>-</u>36</span></div>
<div class="t " style="left:314.0px;top:382px;width:400px;font-size:11.6px;"><span style="transform:scaleX(1.04)">4</span></div>
<div class="t " style="left:356.0px;top:382px;width:400px;font-size:11.6px;"><span style="transform:scaleX(1.04)">460</span></div>
<div class="t " style="left:397.8px;top:382px;width:400px;font-size:11.6px;"><span style="transform:scaleX(1.04)">1662</span></div>
<div class="t " style="left:457.1px;top:382px;width:400px;font-size:11.6px;"><span style="transform:scaleX(1.04)">Z300</span></div>
<div class="t " style="left:-173.1px;top:409px;width:400px;font-size:11.6px;"><span style="transform:scaleX(1.04)">600</span></div>
<div class="t " style="left:-128.8px;top:409px;width:400px;font-size:11.6px;"><span style="transform:scaleX(1.04)">24</span></div>
<div class="t " style="left:-92.3px;top:399px;width:400px;font-size:9.6px;font-weight:500;">齿动</div>
<div class="t " style="left:-48.6px;top:399px;width:400px;font-size:10.5px;"><span style="transform:scaleX(0.79)">Tooth movement</span></div>
<div class="t " style="left:9.4px;top:399px;width:400px;font-size:11.6px;"><span style="transform:scaleX(1.04)">1450</span></div>
<div class="t " style="left:55.4px;top:399px;width:400px;font-size:11.6px;"><span style="transform:scaleX(1.04)">845</span></div>
<div class="t " style="left:101.3px;top:399px;width:400px;font-size:11.6px;"><span style="transform:scaleX(1.04)">770</span></div>
<div class="t " style="left:147.0px;top:399px;width:400px;font-size:11.6px;"><span style="transform:scaleX(1.04)">720</span></div>
<div class="t " style="left:192.8px;top:399px;width:400px;font-size:11.6px;"><span style="transform:scaleX(1.04)">58</span></div>
<div class="t " style="left:254.4px;top:399px;width:400px;font-size:11.6px;"><span style="transform:scaleX(1.04)">20<u>-</u>39</span></div>
<div class="t " style="left:314.0px;top:399px;width:400px;font-size:11.6px;"><span style="transform:scaleX(1.04)">5</span></div>
<div class="t " style="left:356.0px;top:399px;width:400px;font-size:11.6px;"><span style="transform:scaleX(1.04)">600</span></div>
<div class="t " style="left:397.8px;top:399px;width:400px;font-size:11.6px;"><span style="transform:scaleX(1.04)">1580</span></div>
<div class="t " style="left:457.1px;top:399px;width:400px;font-size:11.6px;"><span style="transform:scaleX(1.04)">BAA<u>-</u>3</span></div>
<div class="t " style="left:-77.8px;top:417px;width:400px;font-size:9.6px;font-weight:500;">电动</div>
<div class="t " style="left:-48.5px;top:416px;width:400px;font-size:11.6px;"><span style="transform:scaleX(0.88)">Electric</span></div>
<div class="t " style="left:9.4px;top:417px;width:400px;font-size:11.6px;"><span style="transform:scaleX(1.04)">1450</span></div>
<div class="t " style="left:55.4px;top:417px;width:400px;font-size:11.6px;"><span style="transform:scaleX(1.04)">845</span></div>
<div class="t " style="left:101.3px;top:417px;width:400px;font-size:11.6px;"><span style="transform:scaleX(1.04)">770</span></div>
<div class="t " style="left:147.0px;top:417px;width:400px;font-size:11.6px;"><span style="transform:scaleX(1.04)">720</span></div>
<div class="t " style="left:192.8px;top:417px;width:400px;font-size:11.6px;"><span style="transform:scaleX(1.04)">58</span></div>
<div class="t " style="left:254.4px;top:417px;width:400px;font-size:11.6px;"><span style="transform:scaleX(1.04)">20<u>-</u>39</span></div>
<div class="t " style="left:314.0px;top:417px;width:400px;font-size:11.6px;"><span style="transform:scaleX(1.04)">5</span></div>
<div class="t " style="left:356.0px;top:417px;width:400px;font-size:11.6px;"><span style="transform:scaleX(1.04)">460</span></div>
<div class="t " style="left:397.8px;top:417px;width:400px;font-size:11.6px;"><span style="transform:scaleX(1.04)">1720</span></div>
<div class="t " style="left:457.1px;top:417px;width:400px;font-size:11.6px;"><span style="transform:scaleX(1.04)">Z300</span></div>
</div>
<svg width="700" height="440" viewBox="0 0 700 440">
<g stroke="#cfe1f4" stroke-width="1" fill="none">
<path d="M4.7 58.3H93.4" stroke-width="1.2"/>
<path d="M49.1 58.3V83.5" stroke-width="1.3"/>
<path d="M93.4 33.3V83.5"/>
<path d="M186.4 33.3V83.5"/>
<path d="M232.5 33.3V83.5"/>
<path d="M278.35 33.3V83.5"/>
<path d="M324.2 33.3V83.5"/>
<path d="M369.85 33.3V83.5"/>
<path d="M415.65 33.3V83.5"/>
<path d="M493.2 33.3V83.5"/>
<path d="M534.9 33.3V83.5"/>
<path d="M577.05 33.3V83.5"/>
<path d="M618.65 33.3V83.5"/>
</g>
<g stroke="#3a3a3a" stroke-width="1.25" fill="none">
<path d="M49.1 83.5V434.5"/>
<path d="M93.4 83.5V434.5"/>
<path d="M186.4 83.5V434.5"/>
<path d="M232.5 83.5V434.5"/>
<path d="M278.35 83.5V434.5"/>
<path d="M324.2 83.5V434.5"/>
<path d="M369.85 83.5V434.5"/>
<path d="M415.65 83.5V434.5"/>
<path d="M493.2 83.5V434.5"/>
<path d="M534.9 83.5V434.5"/>
<path d="M577.05 83.5V434.5"/>
<path d="M618.65 83.5V434.5"/>
<path d="M4.7 83.50H695.55"/>
<path d="M4.7 101.05H695.55"/>
<path d="M4.7 118.60H695.55"/>
<path d="M4.7 136.15H695.55"/>
<path d="M4.7 153.70H695.55"/>
<path d="M4.7 171.25H695.55"/>
<path d="M4.7 188.80H695.55"/>
<path d="M93.4 206.35H695.55"/>
<path d="M4.7 223.90H695.55"/>
<path d="M93.4 241.45H695.55"/>
<path d="M4.7 259.00H695.55"/>
<path d="M93.4 276.55H695.55"/>
<path d="M4.7 294.10H695.55"/>
<path d="M93.4 311.65H695.55"/>
<path d="M4.7 329.20H695.55"/>
<path d="M93.4 346.75H695.55"/>
<path d="M4.7 364.30H695.55"/>
<path d="M93.4 381.85H695.55"/>
<path d="M4.7 399.40H695.55"/>
<path d="M93.4 416.95H695.55"/>
</g>
<rect x="4.7" y="33.3" width="690.85" height="400.90" fill="none" stroke="#262626" stroke-width="1.25"/>
</svg>
</body></html>
